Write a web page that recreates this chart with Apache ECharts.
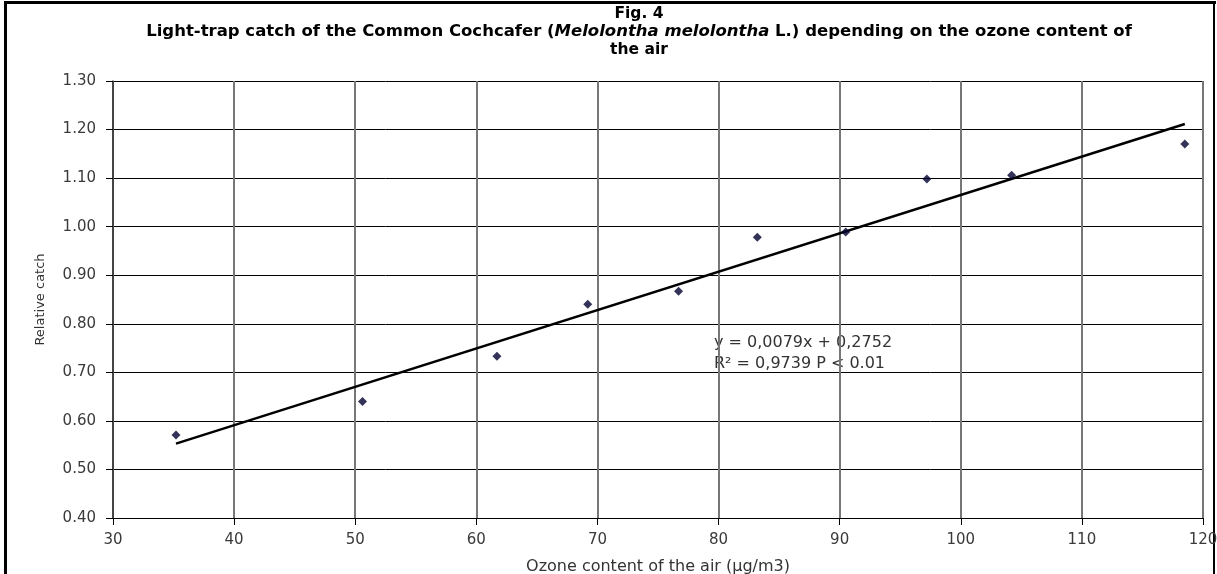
<!DOCTYPE html>
<html>
<head>
<meta charset="utf-8">
<script src="https://cdn.jsdelivr.net/npm/echarts@6/dist/echarts.min.js"></script>
<style>
html,body{margin:0;padding:0;background:#fff;}
#chart{width:1217px;height:574px;}
</style>
</head>
<body>
<div id="chart"></div>
<script>
// Data
const ozone = [35.2, 50.6, 61.7, 69.2, 76.7, 83.2, 90.5, 97.2, 104.2, 118.5];
const relativeCatch = [0.571, 0.640, 0.733, 0.840, 0.867, 0.978, 0.989, 1.098, 1.106, 1.170];
const trendSlope = 0.0079;
const trendIntercept = 0.2752;
const trendXRange = [35.2, 118.5];
const equationLines = ['y = 0,0079x + 0,2752', 'R\u00B2 = 0,9739 P < 0.01'];
const titleLines = ['Fig. 4', 'Light-trap catch of the Common Cochcafer (', 'Melolontha melolontha', ' L.) depending on the ozone content of', 'the air'];
const xAxisName = 'Ozone content of the air (\u00B5g/m3)';
const yAxisName = 'Relative catch';

const points = ozone.map((x, i) => [x, relativeCatch[i]]);
const trend = trendXRange.map(x => [x, trendSlope * x + trendIntercept]);

const FONT = 'DejaVu Sans';
const chart = echarts.init(document.getElementById('chart'), null, {renderer: 'canvas'});
chart.setOption({
  backgroundColor: '#ffffff',
  animation: false,
  title: {
    left: 639,
    top: 5,
    padding: 0,
    textAlign: 'center',
    text: '{f|' + titleLines[0] + '}\n{b|' + titleLines[1] + '}{bi|' + titleLines[2] + '}{b|' + titleLines[3] + '}\n{f|' + titleLines[4] + '}',
    textStyle: {
      fontFamily: FONT,
      fontSize: 15,
      fontWeight: 'bold',
      lineHeight: 18,
      color: '#000',
      rich: {
        f: {fontFamily: FONT, fontSize: 15.5, fontWeight: 'bold', lineHeight: 18, color: '#000'},
        b: {fontFamily: FONT, fontSize: 16.5, fontWeight: 'bold', lineHeight: 18, color: '#000'},
        bi: {fontFamily: FONT, fontSize: 16.5, fontWeight: 'bold', fontStyle: 'italic', lineHeight: 18, color: '#000'}
      }
    }
  },
  grid: {left: 113, right: 14, top: 81, bottom: 56, containLabel: false, outerBoundsMode: 'none'},
  xAxis: {
    type: 'value',
    min: 30, max: 120, interval: 10,
    name: xAxisName,
    nameLocation: 'middle',
    nameGap: 41,
    nameTextStyle: {fontFamily: FONT, fontSize: 16, color: '#333'},
    axisLine: {show: true, lineStyle: {color: '#000', width: 1}},
    axisTick: {show: true, length: 7, lineStyle: {color: '#000'}},
    axisLabel: {fontFamily: FONT, fontSize: 15, color: '#3a3a3a', margin: 15},
    splitLine: {show: true, lineStyle: {color: '#777', width: 2}}
  },
  yAxis: {
    type: 'value',
    min: 0.4, max: 1.3, interval: 0.1,
    name: yAxisName,
    nameLocation: 'middle',
    nameGap: 66,
    nameRotate: 90,
    nameTextStyle: {fontFamily: FONT, fontSize: 13, color: '#333'},
    axisLine: {show: true, lineStyle: {color: '#333', width: 1.5}},
    axisTick: {show: true, length: 7, lineStyle: {color: '#000'}},
    axisLabel: {fontFamily: FONT, fontSize: 15, color: '#3a3a3a', margin: 17, formatter: v => v.toFixed(2)},
    splitLine: {show: true, lineStyle: {color: '#000', width: 1}}
  },
  series: [
    {
      type: 'line',
      data: trend,
      symbol: 'none',
      lineStyle: {color: '#000', width: 2.5},
      silent: true,
      z: 2
    },
    {
      type: 'scatter',
      data: points,
      symbol: 'diamond',
      symbolSize: [9, 9],
      itemStyle: {color: '#000030'},
      z: 3
    }
  ],
  graphic: [
    {type: 'line', shape: {x1: 5.5, y1: 2, x2: 5.5, y2: 574}, style: {stroke: '#000', lineWidth: 3}, silent: true},
    {type: 'line', shape: {x1: 4, y1: 2.5, x2: 1216, y2: 2.5}, style: {stroke: '#000', lineWidth: 3}, silent: true},
    {type: 'line', shape: {x1: 1214, y1: 2, x2: 1214, y2: 574}, style: {stroke: '#000', lineWidth: 2}, silent: true},
    {type: 'text', left: 714, top: 335, style: {text: equationLines[0], font: '16px "DejaVu Sans"', fill: '#333'}, silent: true},
    {type: 'text', left: 714, top: 356, style: {text: equationLines[1], font: '16px "DejaVu Sans"', fill: '#333'}, silent: true}
  ]
});
</script>
</body>
</html>
